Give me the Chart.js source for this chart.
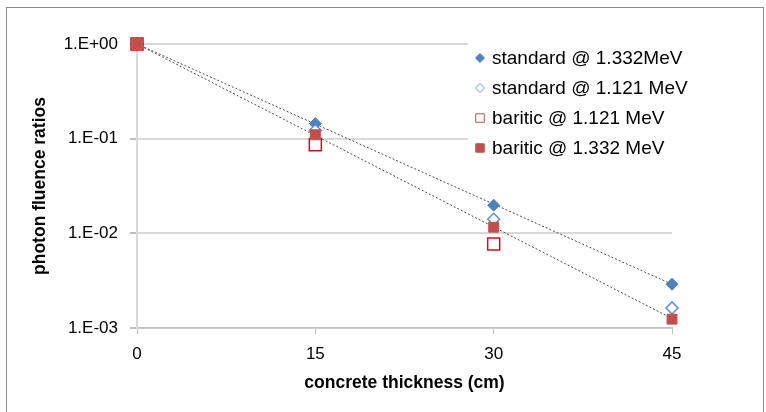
<!DOCTYPE html>
<html>
<head>
<meta charset="utf-8">
<script src="https://cdn.jsdelivr.net/npm/chart.js@4.4.1/dist/chart.umd.min.js"></script>
<style>
  html, body { margin: 0; padding: 0; background: #fff; overflow: hidden; }
  #wrap { position: relative; width: 766px; height: 412px; }
  #frame { position: absolute; left: 6px; top: 7px; width: 756px; height: 420px; border: 1px solid #8c8c8c; }
  canvas { position: absolute; left: 0; top: 0; }
</style>
</head>
<body>
<div id="wrap">
  <div id="frame"></div>
  <canvas id="fluenceChart" width="766" height="412"></canvas>
</div>
<script>
// dữ liệu
var thickness = [0, 15, 30, 45];
var std1332 = [1, 0.144, 0.0198, 0.0029];
var std1121 = [1, 0.122, 0.0141, 0.00163];
var bar1121 = [1, 0.0865, 0.0077, null];
var bar1332 = [1, 0.110, 0.0116, 0.00124];
var trendX = [0, 45];
var trendStd = [1, 0.0029];
var trendBar = [1, 0.00126];
var yTickValues = [0.001, 0.01, 0.1, 1];
var yTickLabels = ['1.E-03', '1.E-02', '1.E-01', '1.E+00'];
var seriesNames = ['standard @ 1.332MeV', 'standard @ 1.121 MeV', 'baritic @ 1.121 MeV', 'baritic @ 1.332 MeV'];

function pts(xs, ys) {
    var out = [];
    for (var i = 0; i < xs.length; i++) {
        if (ys[i] !== null) out.push({ x: xs[i], y: ys[i] });
    }
    return out;
}

var legendMarkers = [
    { pointStyle: 'rectRot', radius: 4.5, fill: '#4f81bd', stroke: '#4f81bd', lw: 1 },
    { pointStyle: 'rectRot', radius: 4.5, fill: '#ffffff', stroke: '#6f9bd6', lw: 1 },
    { pointStyle: 'rect', radius: 6, fill: '#ffffff', stroke: '#c0504d', lw: 1 },
    { pointStyle: 'rect', radius: 6, fill: '#c0504d', stroke: '#c0504d', lw: 1 }
];

// legend tự vẽ, nằm đè lên vùng biểu đồ
var sideLegend = {
    id: 'sideLegend',
    afterDraw: function (chart) {
        var ctx = chart.ctx;
        ctx.save();
        ctx.fillStyle = '#ffffff';
        ctx.fillRect(468, 36, 230, 124);
        ctx.font = '19px "Liberation Sans", Arial, sans-serif';
        ctx.textBaseline = 'middle';
        for (var i = 0; i < seriesNames.length; i++) {
            var y = 58 + i * 30;
            var m = legendMarkers[i];
            ctx.fillStyle = m.fill;
            ctx.strokeStyle = m.stroke;
            ctx.lineWidth = m.lw;
            Chart.helpers.drawPoint(ctx, { pointStyle: m.pointStyle, radius: m.radius, rotation: 0, borderWidth: m.lw }, 480, y);
            ctx.fillStyle = '#000000';
            ctx.fillText(seriesNames[i], 492, y + 1);
        }
        ctx.restore();
    }
};

document.addEventListener("DOMContentLoaded", function () {
    var ctx = document.getElementById('fluenceChart').getContext('2d');
    var fluenceChart = new Chart(ctx, {
        type: 'scatter',
        data: {
            datasets: [
                {
                    label: 'trend standard',
                    data: pts(trendX, trendStd),
                    showLine: true,
                    borderColor: '#505050',
                    borderWidth: 1,
                    borderDash: [2, 2],
                    pointRadius: 0,
                    order: 5
                },
                {
                    label: 'trend baritic',
                    data: pts(trendX, trendBar),
                    showLine: true,
                    borderColor: '#505050',
                    borderWidth: 1,
                    borderDash: [2, 2],
                    pointRadius: 0,
                    order: 5
                },
                {
                    label: seriesNames[0],
                    data: pts(thickness, std1332),
                    pointStyle: 'rectRot',
                    pointRadius: 6,
                    backgroundColor: '#4f81bd',
                    borderColor: '#4f81bd',
                    borderWidth: 1,
                    order: 4
                },
                {
                    label: seriesNames[1],
                    data: pts(thickness, std1121),
                    pointStyle: 'rectRot',
                    pointRadius: 6,
                    backgroundColor: '#ffffff',
                    borderColor: '#5b8fd6',
                    borderWidth: 1.5,
                    order: 3
                },
                {
                    label: seriesNames[2],
                    data: pts(thickness, bar1121),
                    pointStyle: 'rect',
                    pointRadius: 8.5,
                    backgroundColor: '#ffffff',
                    borderColor: '#d01010',
                    borderWidth: 1.5,
                    order: 2
                },
                {
                    label: seriesNames[3],
                    data: pts(thickness, bar1332),
                    pointStyle: 'rect',
                    pointRadius: 7,
                    backgroundColor: '#c0504d',
                    borderColor: '#c0504d',
                    borderWidth: 1,
                    order: 1
                }
            ]
        },
        options: {
            responsive: false,
            animation: false,
            clip: false,
            layout: { padding: { top: 44, right: 94, left: 0, bottom: 0 } },
            plugins: {
                legend: { display: false },
                tooltip: { enabled: false }
            },
            scales: {
                x: {
                    type: 'linear',
                    min: 0,
                    max: 45,
                    afterFit: function (scale) { scale.height = 84; },
                    ticks: {
                        stepSize: 15,
                        padding: 10,
                        color: '#000000',
                        font: { family: '"Liberation Sans", Arial, sans-serif', size: 17 }
                    },
                    grid: {
                        color: 'transparent',
                        tickColor: '#bfbfbf',
                        tickLength: 6,
                        lineWidth: 1
                    },
                    border: { color: '#bfbfbf', width: 1.5 },
                    title: {
                        display: true,
                        text: 'concrete thickness (cm)',
                        color: '#000000',
                        padding: { top: 0, bottom: 18 },
                        font: { family: '"Liberation Sans", Arial, sans-serif', size: 17.5, weight: 'bold' }
                    }
                },
                y: {
                    type: 'logarithmic',
                    min: 0.001,
                    max: 1,
                    afterFit: function (scale) { scale.width = 137; },
                    afterBuildTicks: function (scale) {
                        scale.ticks = yTickValues.map(function (v) { return { value: v }; });
                    },
                    ticks: {
                        padding: 12,
                        color: '#000000',
                        font: { family: '"Liberation Sans", Arial, sans-serif', size: 17 },
                        callback: function (value) {
                            var idx = yTickValues.indexOf(value);
                            return idx >= 0 ? yTickLabels[idx] : '';
                        }
                    },
                    grid: {
                        color: '#d9d9d9',
                        tickColor: '#bfbfbf',
                        tickLength: 7,
                        lineWidth: 2
                    },
                    border: { color: '#d9d9d9', width: 2 },
                    title: {
                        display: true,
                        text: 'photon fluence ratios',
                        color: '#000000',
                        padding: { top: 30, bottom: 0 },
                        font: { family: '"Liberation Sans", Arial, sans-serif', size: 17.5, weight: 'bold' }
                    }
                }
            }
        },
        plugins: [sideLegend]
    });
});
</script>
</body>
</html>
